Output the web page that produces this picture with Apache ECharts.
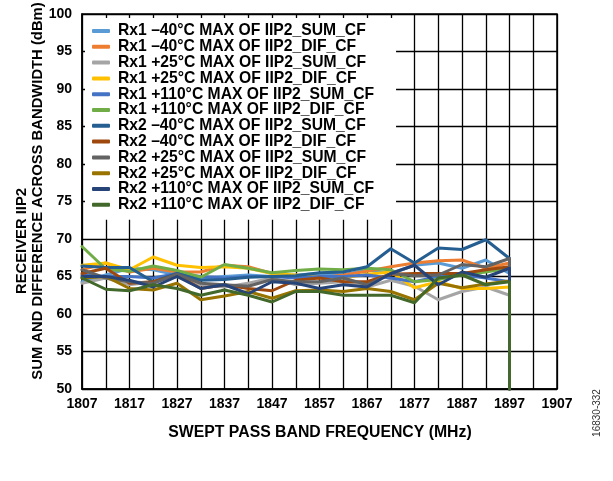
<!DOCTYPE html>
<html><head><meta charset="utf-8">
<script src="https://cdn.jsdelivr.net/npm/echarts@6/dist/echarts.min.js"></script>
<style>html,body{margin:0;padding:0;background:#fff}#c{width:613px;height:481px}</style>
</head><body><div id="c"></div>
<script>
const freqs = [1807,1812,1817,1822,1827,1832,1837,1842,1847,1852,1857,1862,1867,1872,1877,1882,1887,1892,1897];
const dropValue = 50;
const xTickLabels = ['1807','1817','1827','1837','1847','1857','1867','1877','1887','1897','1907'];
const yTickLabels = ['50','55','60','65','70','75','80','85','90','95','100'];

const seriesNames = [
  'Rx1 \u201340\u00b0C MAX OF IIP2_SUM_CF',
  'Rx1 \u201340\u00b0C MAX OF IIP2_DIF_CF',
  'Rx1 +25\u00b0C MAX OF IIP2_SUM_CF',
  'Rx1 +25\u00b0C MAX OF IIP2_DIF_CF',
  'Rx1 +110\u00b0C MAX OF IIP2_SUM_CF',
  'Rx1 +110\u00b0C MAX OF IIP2_DIF_CF',
  'Rx2 \u201340\u00b0C MAX OF IIP2_SUM_CF',
  'Rx2 \u201340\u00b0C MAX OF IIP2_DIF_CF',
  'Rx2 +25\u00b0C MAX OF IIP2_SUM_CF',
  'Rx2 +25\u00b0C MAX OF IIP2_DIF_CF',
  'Rx2 +110\u00b0C MAX OF IIP2_SUM_CF',
  'Rx2 +110\u00b0C MAX OF IIP2_DIF_CF'
];
const seriesColors = ['#5B9BD5','#ED7D31','#A5A5A5','#FFC000','#4472C4','#70AD47',
                      '#255E91','#9E480E','#636363','#997300','#264478','#43682B'];

const rx1m40Sum  = [64.3,65.2,66.1,65.9,65.2,64.8,65.0,65.2,65.0,65.2,65.4,65.2,65.9,65.4,66.5,66.8,66.1,67.2,65.4];
const rx1m40Dif  = [65.9,66.8,65.6,66.1,65.6,65.6,66.5,66.3,65.4,65.0,64.8,65.2,65.7,66.3,66.8,67.1,67.2,66.1,66.8];
const rx1p25Sum  = [64.1,64.8,63.9,64.3,65.0,63.9,63.6,64.1,64.8,63.9,64.1,64.3,63.6,64.5,63.7,61.9,63.0,63.6,62.5];
const rx1p25Dif  = [66.5,66.8,65.9,67.6,66.5,66.2,66.3,66.1,65.4,65.2,65.0,64.8,65.3,65.6,63.5,64.3,63.4,63.4,63.6];
const rx1p110Sum = [65.2,65.0,65.0,64.8,65.4,65.0,64.8,65.0,65.0,64.8,65.0,65.0,65.2,64.8,64.3,65.0,65.2,64.8,64.3];
const rx1p110Dif = [69.0,66.0,65.7,66.4,65.8,64.9,66.6,66.1,65.5,65.8,66.0,65.9,66.1,65.9,64.3,64.6,65.2,65.6,66.1];
const rx2m40Sum  = [66.4,66.2,66.2,64.3,65.4,64.5,64.6,64.9,65.0,65.1,65.5,65.6,66.3,68.7,66.8,68.8,68.6,69.9,67.4];
const rx2m40Dif  = [65.4,66.1,64.1,64.3,65.2,63.4,63.9,63.4,63.1,64.5,64.8,64.3,64.3,65.3,65.4,65.4,65.4,65.9,66.3];
const rx2p25Sum  = [65.9,64.8,64.3,64.1,65.3,64.1,63.9,63.7,64.6,64.3,64.3,64.8,63.9,65.4,65.1,65.2,66.6,66.3,67.4];
const rx2p25Dif  = [64.8,65.0,63.4,63.2,64.1,61.9,62.4,63.0,62.1,63.1,63.2,63.0,63.4,63.0,61.9,64.1,63.5,64.0,64.4];
const rx2p110Sum = [65.0,65.0,64.5,63.6,65.0,63.4,63.9,62.7,64.3,64.1,63.4,63.9,63.6,65.4,66.5,63.9,65.6,64.9,66.1];
const rx2p110Dif = [64.8,63.3,63.1,63.9,63.4,62.5,63.2,62.5,61.6,63.0,63.0,62.5,62.5,62.5,61.5,64.8,65.2,63.9,64.3];

const seriesValues = [rx1m40Sum,rx1m40Dif,rx1p25Sum,rx1p25Dif,rx1p110Sum,rx1p110Dif,
                      rx2m40Sum,rx2m40Dif,rx2p25Sum,rx2p25Dif,rx2p110Sum,rx2p110Dif];

const FONT = 'Liberation Sans, Arial, Helvetica, sans-serif';
const chart = echarts.init(document.getElementById('c'), null, {renderer:'canvas'});

const series = seriesValues.map((vals, k) => ({
  name: seriesNames[k],
  type: 'line',
  showSymbol: false,
  symbol: 'none',
  color: seriesColors[k],
  lineStyle: {width: 3, color: seriesColors[k], join: 'round', cap: 'round'},
  data: freqs.map((f, i) => [f, vals[i]]).concat([[freqs[freqs.length - 1], dropValue]]),
  z: 2 + k * 0.01,
  clip: true
}));

chart.setOption({
  animation: false,
  backgroundColor: '#fff',
  grid: {left: 82, right: 56, top: 14, bottom: 92, show: true, borderColor: '#000', borderWidth: 1.5, containLabel: false},
  xAxis: {
    type: 'value', min: 1807, max: 1907, interval: 5,
    axisLine: {show: true, lineStyle: {color: '#000', width: 1.5}},
    axisTick: {show: false},
    splitLine: {show: true, lineStyle: {color: '#000', width: 1.3}},
    axisLabel: {
      color: '#000', fontFamily: FONT, fontWeight: 'bold', fontSize: 14, margin: 8,
      hideOverlap: false, showMinLabel: true, showMaxLabel: true,
      formatter: v => { const s = String(Math.round(v)); return xTickLabels.indexOf(s) >= 0 ? s : ''; }
    }
  },
  yAxis: {
    type: 'value', min: 50, max: 100, interval: 5,
    axisLine: {show: true, lineStyle: {color: '#000', width: 1.5}},
    axisTick: {show: false},
    splitLine: {show: true, lineStyle: {color: '#000', width: 1.3}},
    axisLabel: {
      color: '#000', fontFamily: FONT, fontWeight: 'bold', fontSize: 14, margin: 10,
      formatter: v => { const s = String(Math.round(v)); return yTickLabels.indexOf(s) >= 0 ? s : ''; }
    }
  },
  legend: {
    orient: 'vertical', left: 85, top: 18, padding: [5, 22, 7, 7], itemGap: -0.2,
    itemWidth: 18, itemHeight: 4, icon: 'roundRect',
    backgroundColor: '#fff',
    textStyle: {fontFamily: FONT, fontWeight: 'bold', fontSize: 15.7, color: '#000', lineHeight: 15, padding: [0, 0, 0, 3]},
    data: seriesNames
  },
  graphic: [
    {type: 'text', x: 22, y: 241, rotation: Math.PI / 2,
     style: {text: 'RECEIVER IIP2', font: 'bold 14.8px ' + FONT, fill: '#000', align: 'center', verticalAlign: 'middle'}},
    {type: 'text', x: 38, y: 191, rotation: Math.PI / 2,
     style: {text: 'SUM AND DIFFERENCE ACROSS BANDWIDTH (dBm)', font: 'bold 14.8px ' + FONT, fill: '#000', align: 'center', verticalAlign: 'middle'}},
    {type: 'text', x: 320, y: 433,
     style: {text: 'SWEPT PASS BAND FREQUENCY (MHz)', font: 'bold 15.8px ' + FONT, fill: '#000', align: 'center', verticalAlign: 'middle'}},
    {type: 'text', x: 597, y: 413, rotation: Math.PI / 2,
     style: {text: '16830-332', font: '10px ' + FONT, fill: '#333', align: 'center', verticalAlign: 'middle'}}
  ],
  series: series
});
</script>
</body></html>
